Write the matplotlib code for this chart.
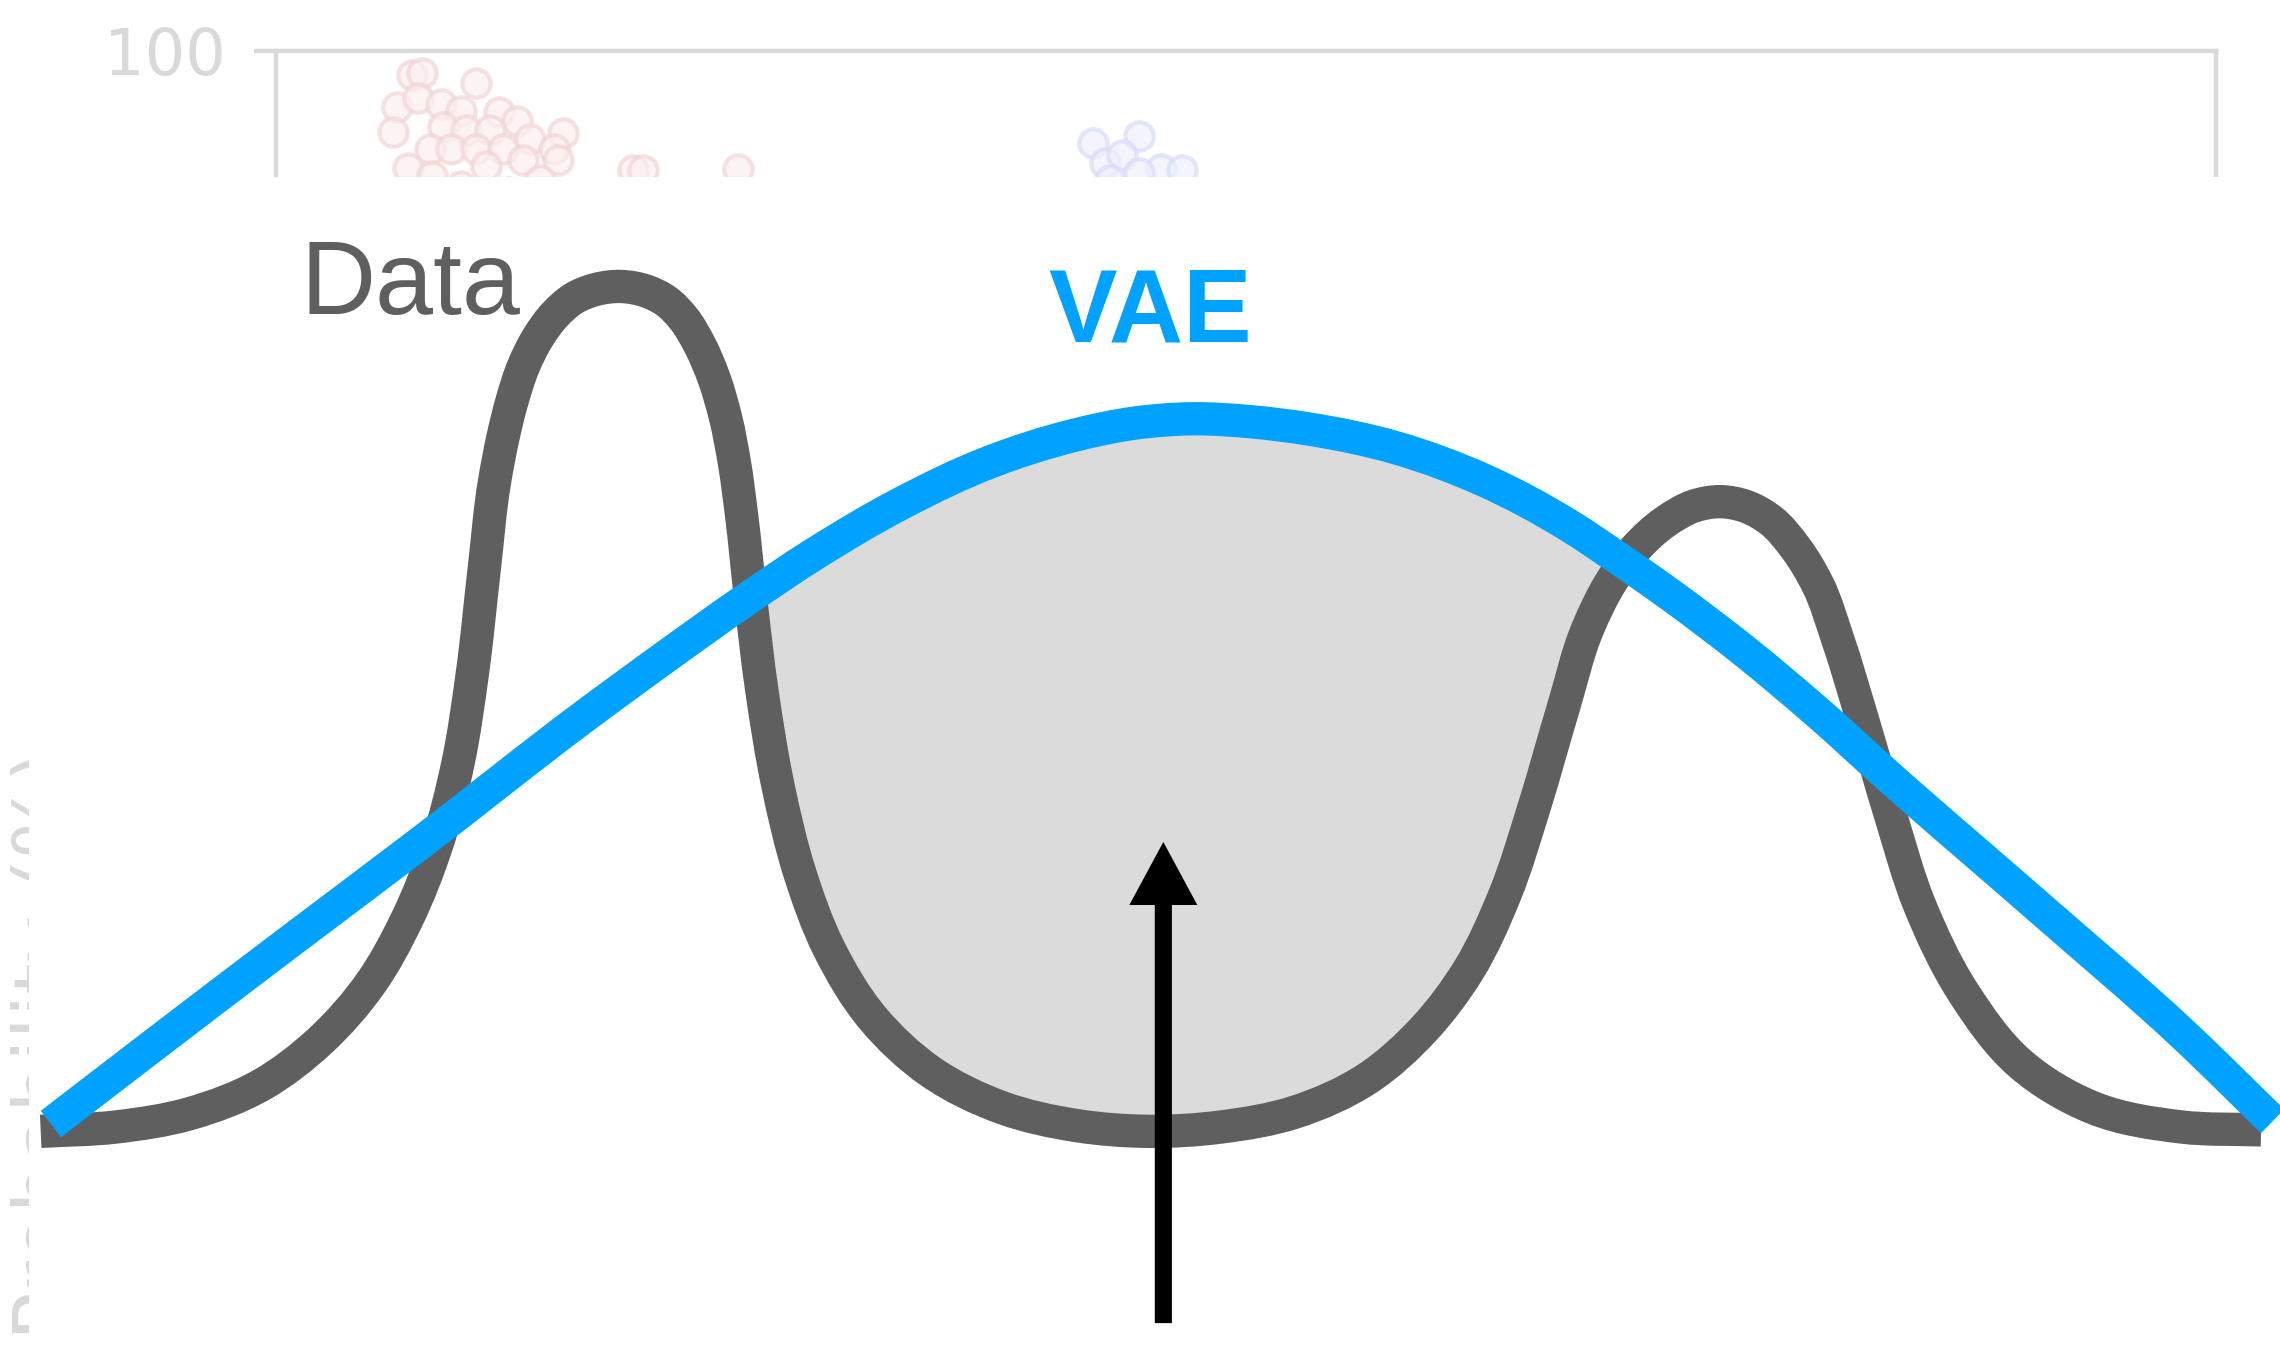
import numpy as np
import matplotlib.pyplot as plt
from matplotlib.patches import Rectangle, PathPatch
from matplotlib.path import Path

# main illustration: position across the latent axis (0-100) and density (peak = 100)
data_x = [0, 3.41, 6.68, 9.95, 12.57, 14.87, 16.50, 17.81, 18.79, 19.45, 19.97, 20.43,
          20.83, 21.22, 21.74, 22.40, 23.18, 24.03, 25.02, 26.13, 27.24, 28.16, 28.95,
          29.67, 30.32, 30.84, 31.24, 31.57, 31.96, 32.48, 33.20, 34.18, 35.49, 37.46,
          40.08, 43.35, 46.63, 49.90, 53.18, 56.45, 59.72, 62.34, 64.31, 65.95, 67.26,
          68.57, 69.68, 70.73, 71.84, 73.15, 74.46, 75.64, 76.75, 77.93, 79.04, 80.03,
          80.94, 81.99, 83.30, 84.61, 86.57, 89.19, 92.47, 96.40, 100.0]
data_y = [0, 0.52, 2.07, 5.51, 10.67, 17.56, 25.13, 33.73, 43.55, 54.39, 66.44, 76.76,
          82.27, 86.40, 90.53, 93.98, 96.73, 98.62, 99.66, 100.0, 99.48, 98.28, 96.21,
          93.12, 89.16, 84.51, 79.17, 72.81, 63.34, 52.15, 40.96, 30.64, 21.69, 13.43,
          7.06, 2.75, 0.69, 0, 0.52, 2.24, 6.20, 12.22, 19.10, 28.06, 38.38,
          50.09, 59.55, 65.06, 69.02, 72.12, 74.01, 74.53, 74.01, 72.29, 69.02, 64.72,
          58.18, 49.23, 37.52, 26.85, 16.52, 7.92, 2.75, 0.52, 0.17]

vae_x = [0.46, 4.72, 11.26, 17.16, 24.36, 28.29, 31.70, 34.84, 38.77, 42.70, 46.63,
         49.25, 51.87, 54.49, 57.11, 61.04, 64.96, 68.89, 70.86, 73.48, 76.75, 80.03,
         83.30, 89.85, 96.40, 100.52]
vae_y = [0.86, 9.47, 22.55, 34.25, 48.88, 56.45, 62.82, 68.33, 74.35, 79.17, 82.44,
         83.82, 84.34, 83.99, 83.13, 80.90, 77.11, 71.60, 68.16, 63.34, 56.80, 49.57,
         41.82, 26.85, 11.70, 1.20]

gap_lo, gap_hi = 31.6, 70.9      # where the VAE puts mass the data doesn't have
arrow_x, arrow_from, arrow_to = 50.56, -22.7, 34.25

# faint chart underneath
bg_red_x = [7.0, 7.5, 10.3, 6.2, 6.0, 7.3, 8.5, 9.5, 11.5, 12.4, 8.6, 9.8, 11.0, 13.1,
            14.8, 14.3, 14.5, 7.9, 9.0, 10.3, 11.7, 12.7, 18.4, 18.9, 23.8, 9.5, 12.0,
            6.8, 8.0, 10.8, 13.6]
bg_red_y = [98.0, 98.2, 97.4, 95.4, 93.4, 96.2, 95.7, 95.1, 95.0, 94.3, 93.8, 93.6, 93.6,
            92.8, 93.3, 92.0, 91.1, 92.0, 92.0, 92.0, 92.0, 91.1, 90.3, 90.3, 90.4, 89.0,
            88.5, 90.5, 89.8, 90.6, 89.5]
bg_blue_x = [42.1, 44.5, 42.7, 43.6, 45.6, 46.7, 44.5, 43.0]
bg_blue_y = [92.5, 93.1, 90.9, 91.5, 90.4, 90.3, 90.1, 89.5]


def smooth_path(xs, ys):
    # cubic Bezier segments through the read points (chord-length tangents)
    p = np.column_stack([xs, ys])
    q = p * [1.0, 0.38]                      # roughly the on-screen aspect of the axes
    d = np.hypot(*np.diff(q, axis=0).T)
    t = np.concatenate([[0], np.cumsum(d)])
    tang = np.gradient(p, t, axis=0)
    verts, codes = [p[0]], [Path.MOVETO]
    for i in range(len(p) - 1):
        verts += [p[i] + tang[i] * d[i] / 3, p[i + 1] - tang[i + 1] * d[i] / 3, p[i + 1]]
        codes += [Path.CURVE4] * 3
    return np.array(verts), codes


W, H = 2280, 1364
fig = plt.figure(figsize=(W / 100, H / 100), dpi=100)

bg = fig.add_axes([0.1212, 0.062, 0.8507, 0.9007], zorder=0)
bg.scatter(bg_red_x, bg_red_y, s=420, facecolor='#fcefef', edgecolor='#f1d6d6',
           linewidth=3, alpha=0.7)
bg.scatter(bg_blue_x, bg_blue_y, s=420, facecolor='#eef0fd', edgecolor='#d9dcfa',
           linewidth=3, alpha=0.7)
bg.set_xlim(0, 100)
bg.set_ylim(0, 100)
bg.set_xticks([])
bg.set_yticks([100])
bg.tick_params(axis='y', length=16, width=3.2, color='#d9d9d9', labelcolor='#d9d9d9',
               labelsize=46, pad=20)
for side in ['top', 'left', 'right']:
    bg.spines[side].set_color('#d9d9d9')
    bg.spines[side].set_linewidth(3.2)
bg.spines['bottom'].set_visible(False)

fig.text(72 / W, 1 - 1045 / H, 'Probability (%)', rotation=90, rotation_mode='anchor',
         ha='center', va='baseline', fontsize=58, color='#d9d9d9', zorder=0.5)

fig.add_artist(Rectangle((29 / W, 0), 1, 1 - 177 / H, transform=fig.transFigure,
                         facecolor='white', edgecolor='none', zorder=1))

ax = fig.add_axes([28 / 1568, 1 - 778 / 938, 1527 / 1568, 581 / 938], zorder=2)
ax.set_facecolor('none')
ax.set_xlim(0, 100)
ax.set_ylim(0, 100)
ax.axis('off')

dx, dy = np.array(data_x), np.array(data_y)
vx, vy = np.array(vae_x), np.array(vae_y)

# shaded gap between the two curves
m_v = (vx >= gap_lo) & (vx <= gap_hi)
m_d = (dx >= gap_lo) & (dx <= gap_hi)
v_top, c_top = smooth_path(vx[m_v], vy[m_v])
v_bot, c_bot = smooth_path(dx[m_d][::-1], dy[m_d][::-1])
fill_verts = np.vstack([v_top, v_bot, v_top[:1]])
fill_codes = c_top + [Path.LINETO] + c_bot[1:] + [Path.CLOSEPOLY]
ax.add_patch(PathPatch(Path(fill_verts, fill_codes), facecolor='#dbdbdb',
                       edgecolor='none', zorder=1, clip_on=False))

for xs, ys, col, z in [(dx, dy, '#5f5f5f', 2), (vx, vy, '#00a2ff', 3)]:
    verts, codes = smooth_path(xs, ys)
    ax.add_patch(PathPatch(Path(verts, codes), facecolor='none', edgecolor=col, lw=24,
                           capstyle='butt', joinstyle='round', zorder=z, clip_on=False))

ax.arrow(arrow_x, arrow_from, 0, arrow_to - arrow_from, width=0.77, head_width=3.06,
         head_length=7.46, length_includes_head=True, color='black', lw=0,
         zorder=4, clip_on=False)

ax.text(11.72, 96.7, 'Data', fontsize=75, color='#5f5f5f', family='Liberation Sans',
        ha='left', va='baseline')
ax.text(45.4, 93.5, 'VAE', fontsize=74, color='#00a2ff', family='Liberation Sans',
        fontweight='bold', ha='left', va='baseline')

fig.savefig('out.png', dpi=100)
